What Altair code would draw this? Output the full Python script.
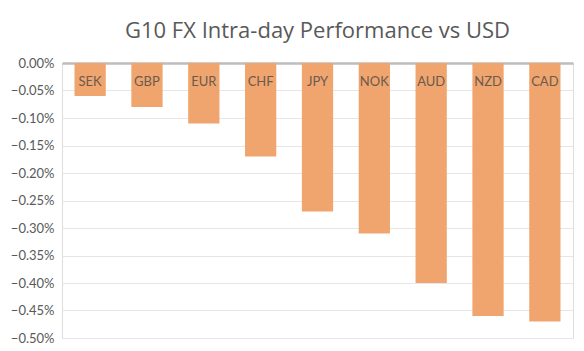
import altair as alt
import pandas as pd

currencies = ["SEK", "GBP", "EUR", "CHF", "JPY", "NOK", "AUD", "NZD", "CAD"]
changes = [-0.0006, -0.0008, -0.0011, -0.0017, -0.0027, -0.0031, -0.0040, -0.0046, -0.0047]
y_ticks = [0, -0.0005, -0.0010, -0.0015, -0.0020, -0.0025, -0.0030, -0.0035, -0.0040, -0.0045, -0.0050]

df = pd.DataFrame({"ccy": currencies, "chg": changes, "base": [0.0] * len(currencies)})

FONT = "Lato"

x_enc = alt.X("ccy:N", sort=currencies, axis=None,
              scale=alt.Scale(paddingInner=0.45, paddingOuter=0.22))
y_scale = alt.Scale(domain=[-0.005, 0], nice=False)
y_axis = alt.Axis(values=y_ticks, format=".2%", title=None, domain=False, ticks=False,
                  labelFont=FONT, labelFontSize=13, labelColor="#595959",
                  labelOverlap=False, labelPadding=8,
                  gridColor=alt.condition("abs(datum.value) < 0.00001", alt.value("#BDBDBD"), alt.value("#E6E6E6")),
                  gridWidth=alt.condition("abs(datum.value) < 0.00001", alt.value(2.5), alt.value(1)))

bars = alt.Chart(df).mark_bar(color="#F0A56E").encode(
    x=x_enc,
    y=alt.Y("chg:Q", scale=y_scale, axis=y_axis),
    y2=alt.Y2("base:Q"),
)

labels = alt.Chart(df).mark_text(baseline="middle", dy=19, font=FONT, fontSize=13,
                                 color="#6b5a4e").encode(
    x=x_enc,
    y=alt.Y("base:Q", scale=y_scale, axis=y_axis),
    text="ccy:N",
)

chart = alt.layer(bars, labels).properties(
    width=511, height=275,
    title=alt.TitleParams("G10 FX Intra-day Performance vs USD", font="Open Sans", fontSize=22,
                          fontWeight="normal", color="#595959", anchor="middle", offset=14),
    padding={"left": 62, "top": 63, "right": 11, "bottom": 13},
    autosize=alt.AutoSizeParams(type="none"),
).configure_view(stroke="transparent", strokeWidth=0).configure(background="white")

chart.save("out.html", embed_options={"renderer": "svg", "actions": False})
